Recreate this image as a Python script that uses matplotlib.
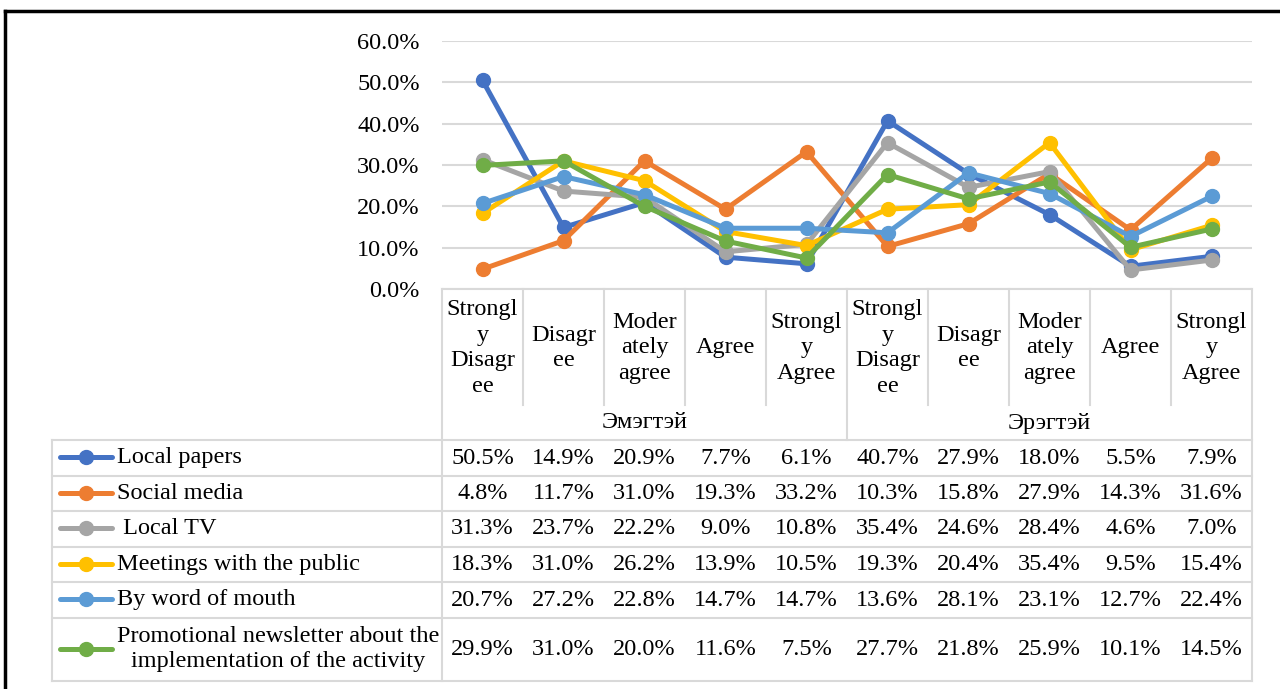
import matplotlib
matplotlib.use("Agg")
import matplotlib.pyplot as plt
from matplotlib.lines import Line2D

plt.rcParams['font.family'] = ['Liberation Serif', 'DejaVu Serif']

# data
groups = ["Эмэгтэй", "Эрэгтэй"]
answers = ["Strongl\ny\nDisagr\nee", "Disagr\nee", "Moder\nately\nagree", "Agree", "Strongl\ny\nAgree"]
series_names = ["Local papers", "Social media", " Local TV", "Meetings with the public",
                "By word of mouth", "Promotional newsletter about the\nimplementation of the activity"]
local_papers = [50.5, 14.9, 20.9, 7.7, 6.1, 40.7, 27.9, 18.0, 5.5, 7.9]
social_media = [4.8, 11.7, 31.0, 19.3, 33.2, 10.3, 15.8, 27.9, 14.3, 31.6]
local_tv = [31.3, 23.7, 22.2, 9.0, 10.8, 35.4, 24.6, 28.4, 4.6, 7.0]
meetings = [18.3, 31.0, 26.2, 13.9, 10.5, 19.3, 20.4, 35.4, 9.5, 15.4]
word_of_mouth = [20.7, 27.2, 22.8, 14.7, 14.7, 13.6, 28.1, 23.1, 12.7, 22.4]
newsletter = [29.9, 31.0, 20.0, 11.6, 7.5, 27.7, 21.8, 25.9, 10.1, 14.5]
yticks = [0, 10, 20, 30, 40, 50, 60]

series = [local_papers, social_media, local_tv, meetings, word_of_mouth, newsletter]
colors = ["#4472C4", "#ED7D31", "#A5A5A5", "#FFC000", "#5B9BD5", "#70AD47"]

W, H = 1280, 689
fig = plt.figure(figsize=(W / 100, H / 100), dpi=100)
FS = 17.5
grid_c = "#d9d9d9"

# plot area in pixels
x0, x1 = 442, 1252
ytop, ybot = 41, 289
ax = fig.add_axes([x0 / W, 1 - ybot / H, (x1 - x0) / W, (ybot - ytop) / H])
ncat = len(answers) * len(groups)
xs = [i + 0.5 for i in range(ncat)]
for vals, c in zip(series, colors):
    ax.plot(xs, [v / 100 for v in vals], color=c, lw=3.6, marker="o", ms=10,
            clip_on=False, solid_capstyle="round")
ax.set_xlim(0, ncat)
ax.set_ylim(0, 0.6)
ax.set_yticks([t / 100 for t in yticks])
ax.set_yticklabels(["%.1f%%" % t for t in yticks], fontsize=FS)
ax.tick_params(axis="y", length=0, pad=16)
ax.set_xticks([])
ax.yaxis.grid(True, color=grid_c, lw=1.5)
ax.set_axisbelow(True)
for s in ax.spines.values():
    s.set_visible(False)

# overlay in pixel coordinates for the data table
ov = fig.add_axes([0, 0, 1, 1])
ov.set_xlim(0, W)
ov.set_ylim(H, 0)
ov.axis("off")
ov.patch.set_alpha(0)

def hline(y, xa, xb, c=grid_c, lw=1.5):
    ov.add_line(Line2D([xa, xb], [y, y], color=c, lw=lw))

def vline(x, ya, yb, c=grid_c, lw=1.5):
    ov.add_line(Line2D([x, x], [ya, yb], color=c, lw=lw))

# outer black frame (top and left)
hline(11, 5, W, c="black", lw=2.5)
vline(5, 11, H, c="black", lw=2.5)

colw = (x1 - x0) / ncat
rows = [440, 476, 511, 547, 582, 618, 681]
leg_l = 52

hline(ybot, x0, x1)
for i in range(ncat + 1):
    xb = x0 + i * colw
    if i in (0, ncat):
        vline(xb, ybot, rows[-1])
    elif i == len(answers):
        vline(xb, ybot, rows[0])
    else:
        vline(xb, ybot, 405)
for k in range(ncat):
    ov.text(x0 + (k + 0.5) * colw, 348, answers[k % len(answers)], ha="center", va="center",
            fontsize=FS, linespacing=1.3)
for g, name in enumerate(groups):
    ov.text(x0 + (g + 0.5) * len(answers) * colw, 423, name, ha="center", va="center", fontsize=FS)

# table rows
for r in rows:
    hline(r, leg_l, x1)
vline(leg_l, rows[0], rows[-1])
for j, (name, vals, c) in enumerate(zip(series_names, series, colors)):
    yc = (rows[j] + rows[j + 1]) / 2
    ov.add_line(Line2D([60, 112], [yc - 1, yc - 1], color=c, lw=3.6, solid_capstyle="round"))
    ov.plot([86], [yc - 1], marker="o", ms=10, color=c)
    ov.text(117, yc, name, ha="left", va="center", fontsize=FS, linespacing=1.25,
            multialignment="center")
    for k, v in enumerate(vals):
        ov.text(x0 + (k + 0.5) * colw, yc, "%.1f%%" % v, ha="center", va="center", fontsize=FS)

fig.savefig("out.png", dpi=100)
